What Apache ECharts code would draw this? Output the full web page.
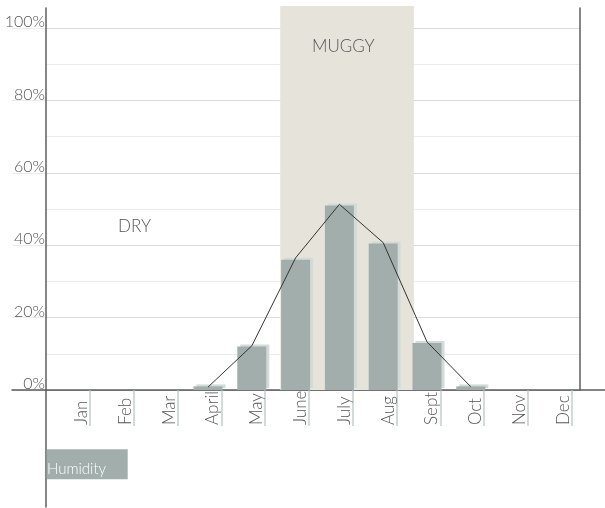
<!DOCTYPE html>
<html><head><meta charset="utf-8">
<script src="https://cdn.jsdelivr.net/npm/echarts@6/dist/echarts.min.js"></script>
<style>html,body{margin:0;padding:0;background:#fff}#c{width:605px;height:508px}</style>
</head><body><div id="c"></div>
<script>
// ---- data ----
const months = ['Jan','Feb','Mar','April','May','June','July','Aug','Sept','Oct','Nov','Dec'];
const humidityBars = [0, 0, 0, 1, 12, 36, 51, 40.5, 13, 1, 0, 0];
const humidityLine = [null, null, null, 0.8, 12.2, 36.5, 51.3, 40.7, 13.3, 0.9, null, null];
const muggyRange = [5.15, 8.2];   // in month-slot units (0 = start of Jan)
const seriesName = 'Humidity';
const zoneDry = 'DRY';
const zoneMuggy = 'MUGGY';

const FONT = 'Lato';
const TXT = '#555';
const AXIS = '#5e5e5e';
const GRIDC = 'rgba(0,0,0,0.075)';

const chart = echarts.init(document.getElementById('c'), null, {renderer:'canvas'});
const hiddenX = (i) => ({gridIndex:i, type:'value', show:false, min:0, max:1});
const hiddenY = (i) => ({gridIndex:i, type:'value', show:false, min:0, max:100});

chart.setOption({
  animation:false,
  grid:[
    {left:54.7, right:24.7, top:28, bottom:118},   // 0 data
    {left:68.1, right:11.3, top:28, bottom:118},   // 1 month labels
    {left:12, right:25, top:28, bottom:118},       // 2 y labels + major lines
    {left:45.7, right:25, top:28, bottom:118},     // 3 minor lines
    {left:54.7, right:24.7, top:6, bottom:118},    // 4 muggy shading
    {left:45.5, right:25, top:8, bottom:1},        // 5 left axis line
    {left:12, right:0, top:8, bottom:118},         // 6 x axis line
    {left:0, right:25, top:8, bottom:118}          // 7 right line
  ],
  xAxis:[
    {gridIndex:0, type:'category', data:months, boundaryGap:true, show:false},
    {gridIndex:1, type:'category', data:months, boundaryGap:true,
      axisLine:{show:false},
      axisTick:{show:true, alignWithLabel:true, length:36, lineStyle:{color:'#c3cfcd', width:1.5}},
      axisLabel:{interval:0, rotate:90, margin:35, align:'left', verticalAlign:'bottom',
        color:TXT, fontSize:17, fontFamily:FONT, fontWeight:300}},
    hiddenX(2), hiddenX(3),
    {gridIndex:4, type:'value', min:0, max:12, show:false},
    hiddenX(5),
    {gridIndex:6, type:'value', min:0, max:1, position:'bottom',
      axisLine:{show:true, onZero:false, lineStyle:{color:AXIS, width:1.5}},
      axisTick:{show:false}, axisLabel:{show:false}, splitLine:{show:false}},
    hiddenX(7)
  ],
  yAxis:[
    {gridIndex:0, type:'value', min:0, max:100, show:false},
    hiddenY(1),
    {gridIndex:2, type:'value', min:0, max:100, interval:20, z:1,
      axisLine:{show:false}, axisTick:{show:false},
      splitLine:{show:true, lineStyle:{color:GRIDC, width:1}},
      axisLabel:{inside:true, margin:33, align:'right', verticalAlign:'bottom', lineHeight:12,
        formatter:'{value}%', color:TXT, fontSize:16, fontFamily:FONT, fontWeight:300}},
    {gridIndex:3, type:'value', min:0, max:100, interval:10, z:1,
      axisLine:{show:false}, axisTick:{show:false}, axisLabel:{show:false},
      splitLine:{show:true, lineStyle:{color:GRIDC, width:1}}},
    hiddenY(4),
    {gridIndex:5, type:'value', min:0, max:1, position:'left', z:7,
      axisLine:{show:true, onZero:false, lineStyle:{color:AXIS, width:1.5}},
      axisTick:{show:false}, axisLabel:{show:false}, splitLine:{show:false}},
    hiddenY(6),
    {gridIndex:7, type:'value', min:0, max:1, position:'right', z:7,
      axisLine:{show:true, onZero:false, lineStyle:{color:AXIS, width:1.5}},
      axisTick:{show:false}, axisLabel:{show:false}, splitLine:{show:false}}
  ],
  series:[
    {type:'line', xAxisIndex:4, yAxisIndex:4, data:[], z:0, silent:true,
      markArea:{silent:true, itemStyle:{color:'#e6e3db'},
        data:[[{xAxis:muggyRange[0]},{xAxis:muggyRange[1]}]]}},
    {name:seriesName, type:'bar', xAxisIndex:0, yAxisIndex:0, data:humidityBars, barWidth:29, z:5,
      itemStyle:{color:'#a1aeac', shadowColor:'#d3dbd9', shadowOffsetX:3, shadowOffsetY:-2, shadowBlur:0}},
    {name:seriesName, type:'line', xAxisIndex:0, yAxisIndex:0, data:humidityLine, z:6,
      symbol:'none', connectNulls:false, lineStyle:{color:'#333', width:1}}
  ],
  graphic:[
    {type:'text', left:118, top:218, z:10, style:{text:zoneDry, fill:TXT, font:'300 17px Lato'}},
    {type:'text', left:312, top:38, z:10, style:{text:zoneMuggy, fill:TXT, font:'300 17px Lato'}},
    {type:'rect', left:46.7, top:449.3, z:10, shape:{width:81, height:30}, style:{fill:'#a1aeac'}},
    {type:'text', left:47, top:462, z:11, style:{text:seriesName, fill:'#fff', font:'300 15px Lato'}}
  ]
});
</script></body></html>
